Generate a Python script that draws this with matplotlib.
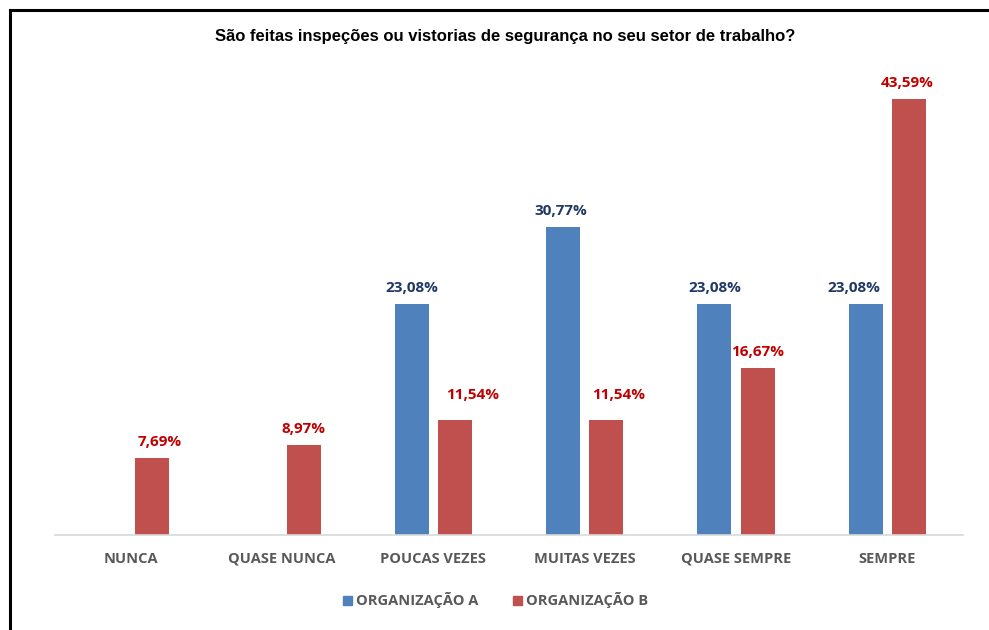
import matplotlib.pyplot as plt
from matplotlib import font_manager
from matplotlib.patches import Rectangle
import numpy as np

categories = ['NUNCA', 'QUASE NUNCA', 'POUCAS VEZES', 'MUITAS VEZES', 'QUASE SEMPRE', 'SEMPRE']
org_a = [None, None, 23.08, 30.77, 23.08, 23.08]
org_b = [7.69, 8.97, 11.54, 11.54, 16.67, 43.59]
series_names = ['ORGANIZAÇÃO A', 'ORGANIZAÇÃO B']
title = 'São feitas inspeções ou vistorias de segurança no seu setor de trabalho?'

# label nudges (pixels) as placed in the original chart
nudge_a = [(0, 0), (0, 0), (0, 0), (-2, 0), (0, 0), (-12, 0)]
nudge_b = [(7, 0), (0, 0), (18, 9), (12, 9), (0, 0), (-2, 0)]

names = {f.name for f in font_manager.fontManager.ttflist}
title_font = 'Liberation Sans Narrow' if 'Liberation Sans Narrow' in names else 'Liberation Sans'
label_font = 'Open Sans'

W, H = 989, 630
fig = plt.figure(figsize=(W / 100, H / 100), dpi=100)

# plot area in pixels: x 55..963, baseline at y=535
ax = fig.add_axes([55 / W, 1 - 535 / H, (963 - 55) / W, 500 / H])
ax.set_xlim(-0.5, len(categories) - 0.5)
ax.set_ylim(0, 50)

x = np.arange(len(categories))
w = 0.225
off = 0.143
blue, red = '#4F81BD', '#C0504D'
px2pt = 72 / 100


def label(xv, yv, txt, color, nudge):
    ax.annotate(txt, (xv, yv), xytext=(nudge[0] * px2pt, (16 + nudge[1]) * px2pt),
                textcoords='offset points', ha='center', va='center', color=color,
                fontsize=11, fontweight='bold', family=label_font)


for i in range(len(categories)):
    if org_a[i] is not None:
        ax.bar(x[i] - off, org_a[i], w, color=blue)
        label(x[i] - off, org_a[i], f'{org_a[i]:.2f}%'.replace('.', ','), '#1F3864', nudge_a[i])
    ax.bar(x[i] + off, org_b[i], w, color=red)
    label(x[i] + off, org_b[i], f'{org_b[i]:.2f}%'.replace('.', ','), '#C00000', nudge_b[i])

for s in ['top', 'right', 'left']:
    ax.spines[s].set_visible(False)
ax.spines['bottom'].set_color('#D9D9D9')
ax.spines['bottom'].set_linewidth(1.2)
ax.set_yticks([])
ax.set_xticks(x)
ax.set_xticklabels(categories, fontsize=10.5, fontweight='bold', color='#595959', family=label_font)
ax.tick_params(axis='x', length=0, pad=12)

fig.text(505 / W, 1 - 37 / H, title, ha='center', va='center', fontsize=12,
         fontweight='bold', family=title_font)

# legend
ly = 1 - 600 / H
for px, name, c in [(343, series_names[0], blue), (513, series_names[1], red)]:
    fig.patches.append(Rectangle((px / W, ly - 4.5 / H), 9 / W, 9 / H, transform=fig.transFigure,
                                 color=c))
    fig.text((px + 13) / W, ly, name, ha='left', va='center', fontsize=10.5,
             fontweight='bold', color='#595959', family=label_font)

# outer border (left and top)
fig.add_artist(plt.Line2D([10 / W, 10 / W], [0, 1 - 10 / H], color='black', lw=2.2))
fig.add_artist(plt.Line2D([10 / W, 1], [1 - 10 / H, 1 - 10 / H], color='black', lw=2.2))

fig.savefig('out.png', dpi=100)
